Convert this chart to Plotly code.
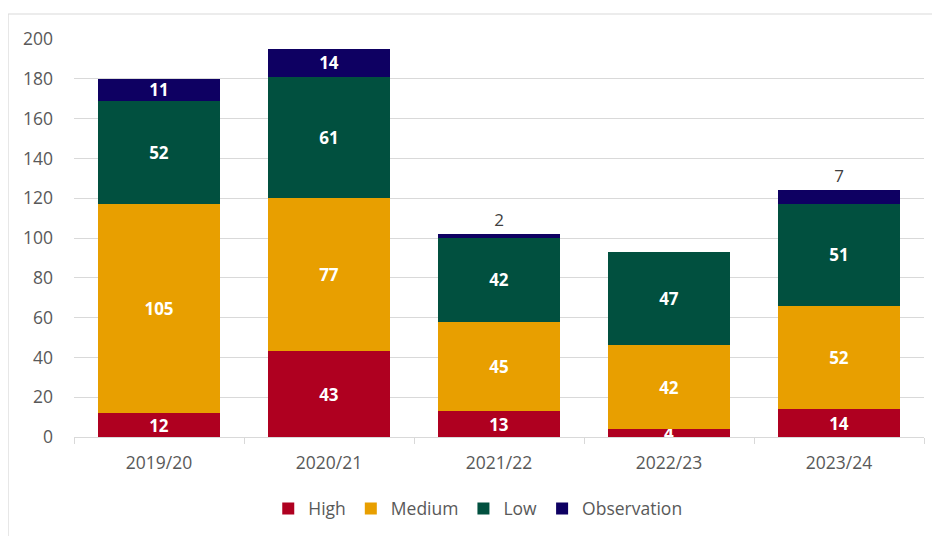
import plotly.graph_objects as go

years = ["2019/20", "2020/21", "2021/22", "2022/23", "2023/24"]
high = [12, 43, 13, 4, 14]
medium = [105, 77, 45, 42, 52]
low = [52, 61, 42, 47, 51]
observation = [11, 14, 2, 0, 7]

colors = {"High": "#AF0020", "Medium": "#E89F00", "Low": "#01503F", "Observation": "#0E0062"}
FONT = "Open Sans"

fig = go.Figure()
for name, vals in [("High", high), ("Medium", medium), ("Low", low)]:
    fig.add_trace(go.Bar(
        x=years, y=vals, name=name, marker=dict(color=colors[name], line=dict(width=0)),
        text=[str(v) for v in vals], textposition="inside", insidetextanchor="middle",
        textangle=0,
        textfont=dict(color="white", size=17, family=FONT, weight="bold"),
        constraintext="none", cliponaxis=False,
    ))

obs_pos = ["inside" if v >= 10 else ("outside" if v > 0 else "none") for v in observation]
fig.add_trace(go.Bar(
    x=years, y=observation, name="Observation",
    marker=dict(color=colors["Observation"], line=dict(width=0)),
    text=[str(v) if v > 0 else "" for v in observation], textposition=obs_pos,
    insidetextanchor="middle", textangle=0,
    insidetextfont=dict(color="white", size=17, family=FONT, weight="bold"),
    outsidetextfont=dict(color="#404040", size=17, family=FONT),
    constraintext="none", cliponaxis=False,
))

fig.update_layout(
    barmode="stack", bargap=0.285,
    width=940, height=536,
    margin=dict(l=66, r=24, t=31, b=107),
    paper_bgcolor="white", plot_bgcolor="white",
    font=dict(family=FONT, size=17.5, color="#595959"),
    uniformtext=dict(minsize=17, mode="show"),
    legend=dict(orientation="h", x=0.475, xanchor="center", y=-0.18, yanchor="middle",
                font=dict(size=17.5, color="#595959"), traceorder="normal",
                itemwidth=30),
    showlegend=True,
    shapes=[
        dict(type="line", xref="paper", yref="paper", x0=-0.0776, x1=1.1, y0=1.0628, y1=1.0628,
             line=dict(color="#D9D9D9", width=1.2)),
        dict(type="line", xref="paper", yref="paper", x0=-0.0776, x1=-0.0776, y0=-0.4, y1=1.0628,
             line=dict(color="#D9D9D9", width=1.2)),
    ],
)
fig.update_xaxes(
    type="category", showgrid=False, showline=True, linecolor="#D9D9D9", linewidth=1,
    ticks="outside", tickson="boundaries", ticklen=6, tickcolor="#D9D9D9",
    ticklabelstandoff=10,
    tickfont=dict(size=17.5, color="#595959"),
)
fig.update_yaxes(
    range=[0, 200], dtick=20, showgrid=True, gridcolor="#D9D9D9", gridwidth=1,
    zeroline=False, showline=False, ticks="", ticklabelstandoff=20,
    tickfont=dict(size=17.5, color="#595959"),
)

fig.write_html("out.html")
